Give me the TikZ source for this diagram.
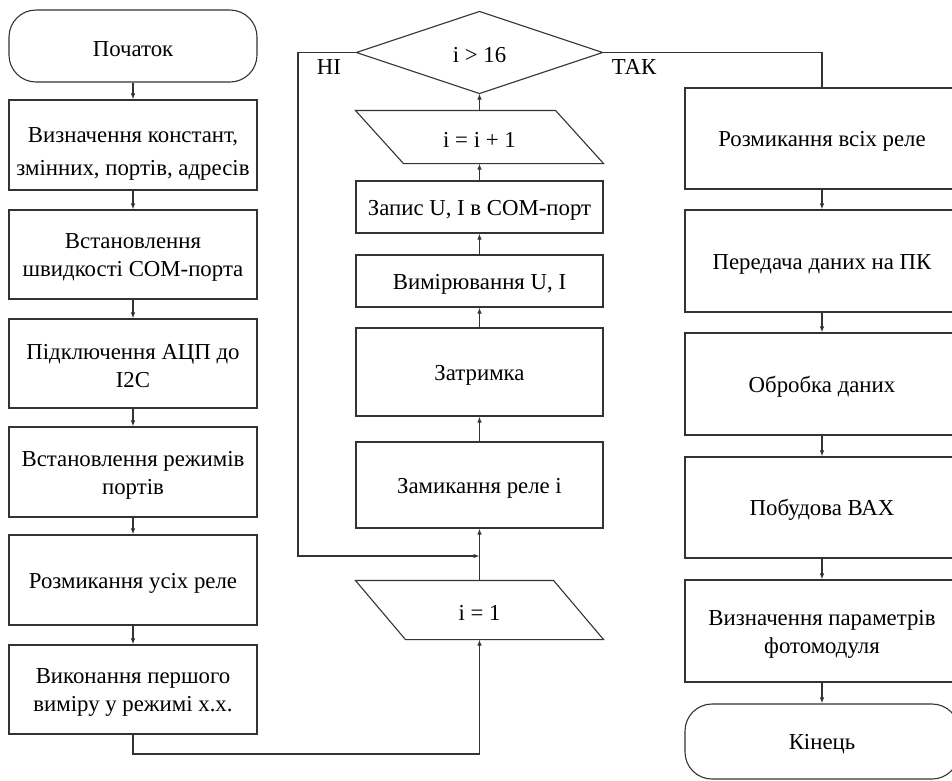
\documentclass[tikz,border=0pt]{standalone}
\usepackage{fontspec}
\setmainfont{Liberation Serif}
\usetikzlibrary{arrows.meta,calc}
\definecolor{lc}{HTML}{333333}
\newcommand\tst{\rule{0pt}{21pt}}
\newcommand\tstbig{\rule{0pt}{33pt}}
\begin{document}
\begin{tikzpicture}[x=1pt,y=-1pt,
  line width=1.1pt,
  every node/.style={font=\fontsize{22.8}{28}\selectfont, align=center, text=black},
  frame/.style={draw=lc, rectangle, inner sep=0pt},
  lbox/.style={frame, minimum width=248pt, minimum height=#1},
  mbox/.style={frame, minimum width=247pt, minimum height=#1},
  rbox/.style={frame, minimum width=274pt, minimum height=#1},
  term/.style={rounded corners=27pt},
  ghost/.style={rectangle, inner sep=0pt, minimum width=247pt, minimum height=#1},
  conn/.style={draw=lc, line width=1.1pt},
  arr/.style={conn, -{Latex[length=6pt,width=4.5pt]}},
  lab/.style={inner sep=0pt}
]
\useasboundingbox (0,0) rectangle (952,780);
\clip (0,0) rectangle (952,780);

% left column
\node[lbox=72pt, term] (start) at (133,46) {\tst Початок};
\node[lbox=90pt, font=\fontsize{22.8}{33}\selectfont] (b1) at (133,145) {\tstbig Визначення констант,\\змінних, портів, адресів};
\node[lbox=89pt] (b2) at (133,254.5) {\tst Встановлення\\швидкості COM-порта};
\node[lbox=89pt] (b3) at (133,363.5) {\tst Підключення АЦП до\\I2C};
\node[lbox=90pt] (b4) at (133,472) {\tst Встановлення режимів\\портів};
\node[lbox=90pt] (b5) at (133,580) {\tst Розмикання усіх реле};
\node[lbox=89pt] (b6) at (133,689.5) {\tst Виконання першого\\виміру у режимі х.х.};

\draw[arr] (start) -- (b1);
\draw[arr] (b1) -- (b2);
\draw[arr] (b2) -- (b3);
\draw[arr] (b3) -- (b4);
\draw[arr] (b4) -- (b5);
\draw[arr] (b5) -- (b6);

% middle column
\node[rectangle, inner sep=0pt, minimum width=245pt, minimum height=81pt] (dec) at (479.5,52.5) {\tst i > 16};
\draw[draw=lc] (dec.north) -- (dec.east) -- (dec.south) -- (dec.west) -- cycle;
\node[ghost=52pt] (pp1) at (479.5,137) {\tst i = i + 1};
\draw[draw=lc] (pp1.north west) -- ([xshift=-48pt]pp1.north east) -- (pp1.south east) -- ([xshift=48pt]pp1.south west) -- cycle;
\node[mbox=52pt] (zap) at (479.5,207) {\tst Запис U, I в COM-порт};
\node[mbox=52pt] (vym) at (479.5,281) {\tst Вимірювання U, I};
\node[mbox=88pt] (zat) at (479.5,372) {\tst Затримка};
\node[mbox=86pt] (zam) at (479.5,485) {\tst Замикання реле i};
\node[ghost=58pt] (i1) at (479.5,610) {\tst i = 1};
\draw[draw=lc] (i1.north west) -- ([xshift=-50pt]i1.north east) -- (i1.south east) -- ([xshift=50pt]i1.south west) -- cycle;

\draw[arr] (pp1.north) -- (dec.south);
\draw[arr] (zap.north) -- (pp1.south);
\draw[arr] (vym.north) -- (zap.south);
\draw[arr] (zat.north) -- (vym.south);
\draw[arr] (zam.north) -- (zat.south);
\draw[arr] (i1.north) -- (zam.south);

\coordinate (noA) at (298,52.5);
\coordinate (noB) at (298,556);
\coordinate (join) at (479.5,556);
\draw[arr] (dec.west) -- (noA) -- (noB) -- (join);
\node[lab] (no) at (329,67) {НІ};

\coordinate (botA) at (133,754);
\coordinate (botB) at (479.5,754);
\draw[arr] (b6.south) -- (botA) -- (botB) -- (i1.south);

% right column
\node[rbox=101pt] (r1) at (822,138.5) {\tst Розмикання всіх реле};
\node[rbox=102pt] (r2) at (822,261) {\tst Передача даних на ПК};
\node[rbox=102pt] (r3) at (822,384) {\tst Обробка даних};
\node[rbox=101pt] (r4) at (822,507.5) {\tst Побудова ВАХ};
\node[rbox=102pt] (r5) at (822,631) {\tst Визначення параметрів\\фотомодуля};
\node[rbox=75pt, term] (fin) at (822,741.5) {\tst Кінець};

\coordinate (yesA) at (822,52.5);
\draw[conn] (dec.east) -- (yesA) -- (r1.north);
\node[lab] (yes) at (634,67) {ТАК};

\draw[arr] (r1) -- (r2);
\draw[arr] (r2) -- (r3);
\draw[arr] (r3) -- (r4);
\draw[arr] (r4) -- (r5);
\draw[arr] (r5) -- (fin);
\end{tikzpicture}
\end{document}
